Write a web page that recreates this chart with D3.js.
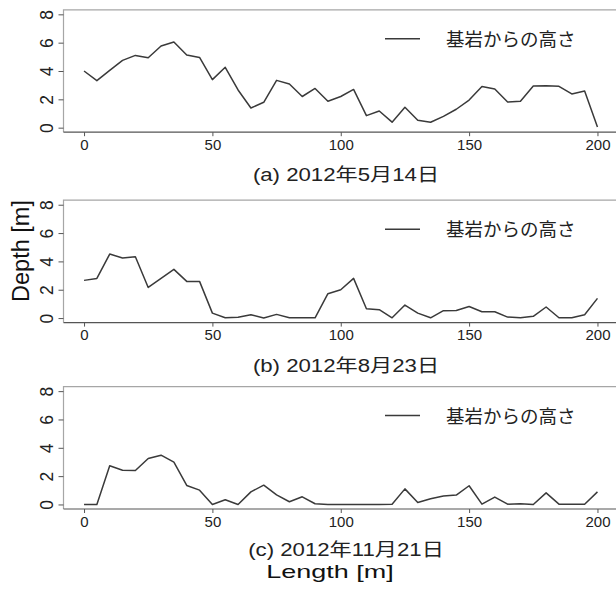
<!DOCTYPE html>
<html>
<head>
<meta charset="utf-8">
<script src="https://cdn.jsdelivr.net/npm/d3@7"></script>
<style>
  body { margin: 0; background: #fff; }
  svg { display: block; }
</style>
</head>
<body>
<svg id="chart" width="616" height="589"></svg>
<script>
// Survey positions along the section [m]
const lengthM = [0, 5, 10, 15, 20, 25, 30, 35, 40, 45, 50, 55, 60, 65, 70, 75, 80, 85, 90, 95, 100,
                 105, 110, 115, 120, 125, 130, 135, 140, 145, 150, 155, 160, 165, 170, 175, 180, 185, 190, 195, 200];

// Height above bedrock [m] for each survey date
const heightMay14 = [4.0, 3.32, 4.05, 4.75, 5.1, 4.94, 5.76, 6.05, 5.13, 4.96, 3.39, 4.26, 2.66, 1.39, 1.79, 3.34, 3.08, 2.2, 2.77, 1.87, 2.2,
                     2.7, 0.85, 1.18, 0.39, 1.44, 0.52, 0.38, 0.8, 1.3, 1.95, 2.9, 2.73, 1.81, 1.86, 2.94, 2.96, 2.92, 2.38, 2.59, 0.05];
const heightAug23 = [2.66, 2.8, 4.52, 4.24, 4.33, 2.16, 2.8, 3.44, 2.59, 2.59, 0.35, 0.02, 0.05, 0.24, 0.0, 0.26, 0.02, 0.02, 0.02, 1.72, 2.0,
                     2.8, 0.66, 0.59, 0.02, 0.92, 0.35, 0.02, 0.52, 0.54, 0.82, 0.45, 0.45, 0.07, 0.02, 0.12, 0.78, 0.02, 0.02, 0.24, 1.39];
const heightNov21 = [0.0, 0.0, 2.73, 2.42, 2.4, 3.25, 3.48, 2.99, 1.34, 1.01, 0.0, 0.33, 0.0, 0.89, 1.36, 0.68, 0.19, 0.54, 0.05, 0.0, 0.0,
                     0.0, 0.0, 0.0, 0.02, 1.1, 0.14, 0.4, 0.59, 0.66, 1.32, 0.02, 0.52, 0.02, 0.05, 0.0, 0.82, 0.02, 0.02, 0.02, 0.89];

const panelTitles = ["(a) 2012年5月14日", "(b) 2012年8月23日", "(c) 2012年11月21日"];
const seriesLabel = "基岩からの高さ";
const xTicks = [0, 50, 100, 150, 200];
const yTicks = [0, 2, 4, 6, 8];
const xLabel = "Length [m]";
const yLabel = "Depth [m]";

const series = [heightMay14, heightAug23, heightNov21];

const latin = "'Liberation Sans', Arial, Helvetica, sans-serif";
const cjk = "'Liberation Sans', 'Noto Sans CJK JP', sans-serif";

const svg = d3.select("#chart");

// Plot region of each panel (R-style 4% padding on both axes)
const plotLeft = 63.5, plotRight = 618;
const plotTops = [9.8, 200.2, 386.6];
const captionBaselines = [180.5, 371.5, 555.5];
const plotH = 122.4;

const x = d3.scaleLinear().domain([-8, 208]).range([plotLeft, plotRight]);

series.forEach((vals, i) => {
  const top = plotTops[i];
  const bottom = top + plotH;
  const y = d3.scaleLinear().domain([-0.32, 8.32]).range([bottom, top]);
  const g = svg.append("g");

  // frame: left and top edges
  g.append("path")
    .attr("d", `M${plotRight},${top}H${plotLeft}V${bottom}`)
    .attr("fill", "none").attr("stroke", "#a6a6a6").attr("stroke-width", 1.2);

  // x axis along the bottom of the frame
  const xa = g.append("g").attr("transform", `translate(0,${bottom})`)
    .call(d3.axisBottom(x).tickValues(xTicks).tickSize(4).tickSizeOuter(0).tickPadding(3));
  xa.select(".domain").attr("d", `M${plotLeft},0H${plotRight}`).attr("stroke", "#555").attr("stroke-width", 1.2);
  xa.selectAll(".tick line").attr("stroke", "#555");
  xa.selectAll(".tick text").attr("font-family", latin).attr("font-size", 15).attr("fill", "#222");

  // y axis with rotated tick labels
  const ya = g.append("g").attr("transform", `translate(${plotLeft},0)`)
    .call(d3.axisLeft(y).tickValues(yTicks).tickSize(5).tickSizeOuter(0));
  ya.select(".domain").remove();
  ya.selectAll(".tick line").attr("stroke", "#555");
  ya.selectAll(".tick text")
    .attr("font-family", latin).attr("font-size", 17.5).attr("fill", "#222")
    .attr("x", null).attr("dy", null)
    .attr("text-anchor", "middle")
    .attr("transform", "translate(-16.5,0) rotate(-90)")
    .attr("dominant-baseline", "central");

  // profile line
  const line = d3.line().x((d, j) => x(lengthM[j])).y(d => y(d));
  g.append("path").datum(vals)
    .attr("d", line)
    .attr("fill", "none").attr("stroke", "#3a3a3a").attr("stroke-width", 1.5)
    .attr("stroke-linejoin", "round");

  // legend
  g.append("line")
    .attr("x1", 385).attr("x2", 420)
    .attr("y1", top + 29).attr("y2", top + 29)
    .attr("stroke", "#3a3a3a").attr("stroke-width", 1.5);
  g.append("text")
    .attr("x", 446).attr("y", top + 36)
    .attr("font-family", cjk).attr("font-size", 18.5).attr("fill", "#222")
    .text(seriesLabel);

  // panel caption below the axis (glyphs drawn slightly wide)
  g.append("text")
    .attr("transform", `translate(346,${captionBaselines[i]}) scale(1.2,1)`)
    .attr("text-anchor", "middle")
    .attr("font-family", cjk).attr("font-size", 18.5).attr("fill", "#222")
    .text(panelTitles[i]);
});

// shared axis titles
svg.append("text")
  .attr("transform", "translate(330,578) scale(1.42,1)")
  .attr("text-anchor", "middle")
  .attr("font-family", latin).attr("font-size", 19).attr("fill", "#111")
  .text(xLabel);

svg.append("text")
  .attr("transform", "translate(29,251) rotate(-90)")
  .attr("text-anchor", "middle")
  .attr("font-family", latin).attr("font-size", 23.5).attr("fill", "#111")
  .text(yLabel);
</script>
</body>
</html>
